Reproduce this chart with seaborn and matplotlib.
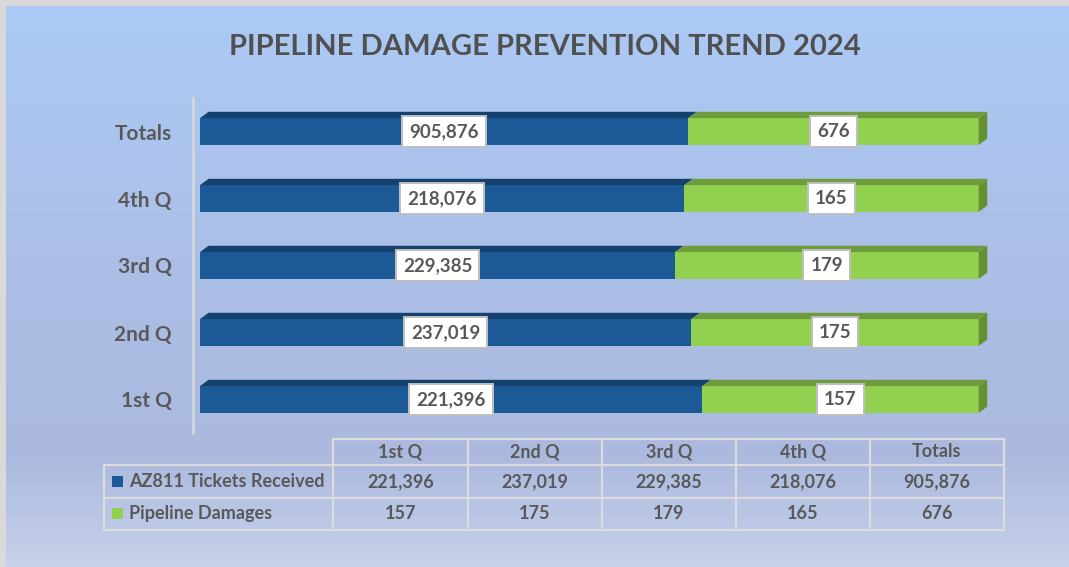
import numpy as np
import pandas as pd
import matplotlib
matplotlib.use("Agg")
import matplotlib.pyplot as plt
from matplotlib.patches import Polygon, Rectangle
from matplotlib.colors import LinearSegmentedColormap
from matplotlib.lines import Line2D
import seaborn as sns

# ---------------- data ----------------
quarters = ["1st Q", "2nd Q", "3rd Q", "4th Q", "Totals"]
tickets = [221396, 237019, 229385, 218076, 905876]
damages = [157, 175, 179, 165, 676]
# shares of the 100% stacked bar
tickets_share = [0.645, 0.631, 0.610, 0.622, 0.627]
damages_share = [0.355, 0.369, 0.390, 0.378, 0.373]
series_names = ["AZ811 Tickets Received", "Pipeline Damages"]
title_text = "PIPELINE DAMAGE PREVENTION TREND 2024"

# ---------------- style ----------------
sns.set_theme(style="white")
plt.rcParams["font.family"] = ["Lato", "DejaVu Sans"]
TXT = "#595959"
BLUE, BLUE_TOP = "#1b5a96", "#15416e"
GREEN, GREEN_TOP, GREEN_SIDE = "#92d050", "#6e9c3c", "#64902f"
GRID = "#d9d9d9"

W, H = 1069, 567
fig = plt.figure(figsize=(W / 100, H / 100), dpi=100)
fig.patch.set_facecolor("#d9d9d9")

def fx(px):
    return px / W

def fy(py):
    return 1 - py / H

# background gradient
bg = fig.add_axes([fx(6), 0, 1 - fx(6), fy(6)])
cmap = LinearSegmentedColormap.from_list(
    "bg", [(0, "#abcaf5"), (0.45, "#acbfe7"), (0.8, "#abb9de"), (1.0, "#c6d1ea")])
bg.imshow(np.linspace(0, 1, 256).reshape(-1, 1), aspect="auto", cmap=cmap,
          extent=[0, 1, 1, 0])
bg.set_axis_off()
bg.set_zorder(0)

# ---------------- bars ----------------
order = quarters[::-1]
df = pd.DataFrame({
    "quarter": quarters,
    "tickets_share": tickets_share,
    "damages_share": damages_share,
})
df["total_share"] = df["tickets_share"] + df["damages_share"]

ax_left_px, ax_right_px = 192.7, 992
zero_px, one_px = 200.0, 978.7
ppu = one_px - zero_px
ax_top_px, ax_bot_px = 98, 433
ax = fig.add_axes([fx(ax_left_px), fy(ax_bot_px),
                   fx(ax_right_px - ax_left_px), (ax_bot_px - ax_top_px) / H])
ax.set_zorder(2)
ax.patch.set_alpha(0)

bw = 0.4
sns.barplot(data=df, y="quarter", x="total_share", order=order, color=GREEN,
            saturation=1, width=bw, orient="h", ax=ax, linewidth=0)
sns.barplot(data=df, y="quarter", x="tickets_share", order=order, color=BLUE,
            saturation=1, width=bw, orient="h", ax=ax, linewidth=0)

ax.set_xlim((ax_left_px - zero_px) / ppu, 1 + (ax_right_px - one_px) / ppu)
ax.set_ylim(len(order) - 0.5, -0.5)

dx = 8.5 / ppu
dy = 6.3 / ((ax_bot_px - ax_top_px) / len(order))

n = len(order)
green_bars = ax.patches[:n]
blue_bars = ax.patches[n:2 * n]
for gb, bb in zip(green_bars, blue_bars):
    y0 = gb.get_y()
    top = y0
    bot = y0 + gb.get_height()
    if bot < top:
        top, bot = bot, top
    xb = bb.get_x() + bb.get_width()
    xg = gb.get_x() + gb.get_width()
    ax.add_patch(Polygon([(0, top), (xb, top), (xb + dx, top - dy), (dx, top - dy)],
                         closed=True, facecolor=BLUE_TOP, edgecolor="none", zorder=3))
    ax.add_patch(Polygon([(xb, top), (xg, top), (xg + dx, top - dy), (xb + dx, top - dy)],
                         closed=True, facecolor=GREEN_TOP, edgecolor="none", zorder=3))
    ax.add_patch(Polygon([(xg, top), (xg + dx, top - dy), (xg + dx, bot - dy), (xg, bot)],
                         closed=True, facecolor=GREEN_SIDE, edgecolor="none", zorder=3))

# data labels
for i, q in enumerate(order):
    k = quarters.index(q)
    b = tickets_share[k]
    t = b + damages_share[k]
    box = dict(boxstyle="square,pad=0.38", facecolor="white", edgecolor="#bfbfbf", linewidth=1.4)
    ax.text(b / 2, i, f"{tickets[k]:,}", ha="center", va="center", fontsize=13.5,
            fontweight="bold", color=TXT, bbox=box, zorder=5)
    ax.text((b + t) / 2, i, f"{damages[k]:,}", ha="center", va="center", fontsize=13.5,
            fontweight="bold", color=TXT, bbox=box, zorder=5)

for s in ["top", "right", "bottom"]:
    ax.spines[s].set_visible(False)
ax.spines["left"].set_color(GRID)
ax.spines["left"].set_linewidth(1.8)
ax.set_xticks([])
ax.set_xlabel("")
ax.set_ylabel("")
ax.tick_params(axis="y", length=0, pad=15)
for lab in ax.get_yticklabels():
    lab.set_fontsize(15)
    lab.set_fontweight("bold")
    lab.set_color(TXT)

# ---------------- title ----------------
fig.text(fx(545), fy(47), title_text, ha="center", va="center", fontsize=21,
         fontweight="bold", color="#505050", family=["Lato", "DejaVu Sans"], zorder=5)

# ---------------- data table ----------------
col_x = [333, 468, 602, 736, 870, 1004]
row_y = [439, 464.5, 498, 529.5]
legend_x = 104
tab_color = "#dcdcdc"
lw = 1.6

def hline(x0, x1, y):
    fig.add_artist(Line2D([fx(x0), fx(x1)], [fy(y), fy(y)], color=tab_color, lw=lw, zorder=4))

def vline(x, y0, y1):
    fig.add_artist(Line2D([fx(x), fx(x)], [fy(y0), fy(y1)], color=tab_color, lw=lw, zorder=4))

hline(col_x[0], col_x[-1], row_y[0])
for y in row_y[1:]:
    hline(legend_x, col_x[-1], y)
for x in col_x:
    vline(x, row_y[0], row_y[-1])
vline(legend_x, row_y[1], row_y[-1])

tfs = 13
for j, q in enumerate(quarters):
    cx = (col_x[j] + col_x[j + 1]) / 2
    fig.text(fx(cx), fy((row_y[0] + row_y[1]) / 2), q, ha="center", va="center",
             fontsize=tfs, fontweight="bold", color=TXT, zorder=5)
    fig.text(fx(cx), fy((row_y[1] + row_y[2]) / 2), f"{tickets[j]:,}", ha="center",
             va="center", fontsize=tfs, fontweight="bold", color=TXT, zorder=5)
    fig.text(fx(cx), fy((row_y[2] + row_y[3]) / 2), f"{damages[j]:,}", ha="center",
             va="center", fontsize=tfs, fontweight="bold", color=TXT, zorder=5)

for r, (name, col) in enumerate(zip(series_names, [BLUE, GREEN])):
    yc = (row_y[r + 1] + row_y[r + 2]) / 2
    fig.add_artist(Rectangle((fx(112), fy(yc + 5.5)), fx(11), 11 / H, facecolor=col,
                             edgecolor="none", zorder=5))
    fig.text(fx(129), fy(yc), name, ha="left", va="center", fontsize=tfs,
             fontweight="bold", color=TXT, zorder=5)

fig.savefig("out.png", dpi=100, facecolor=fig.get_facecolor())
